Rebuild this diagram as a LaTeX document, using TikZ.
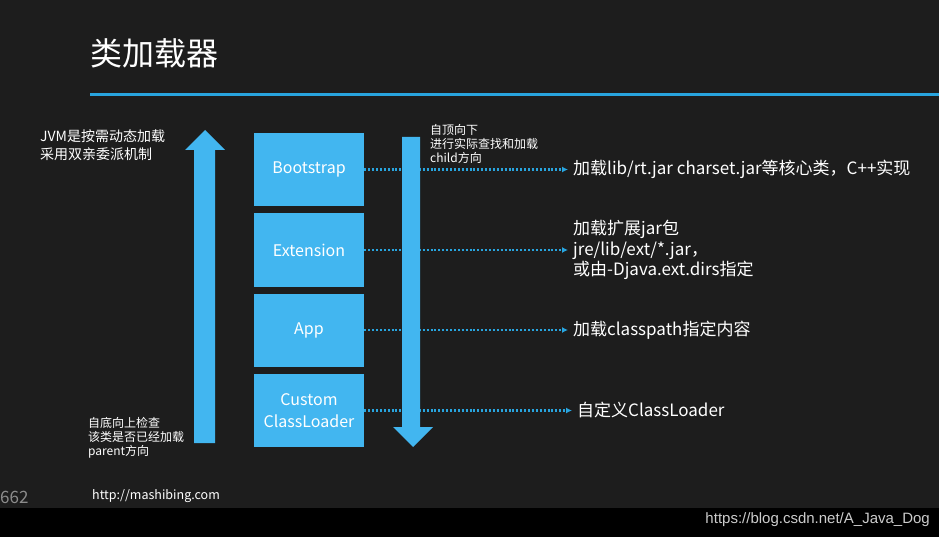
\documentclass[tikz,border=0pt]{standalone}
\usepackage{fontspec}
\setmainfont{Noto Sans CJK SC}
\newfontfamily\csdnfont{Liberation Sans}
\usetikzlibrary{arrows.meta}

\definecolor{board}{RGB}{29,29,29}
\definecolor{jvmblue}{RGB}{66,182,240}
\definecolor{lineblue}{RGB}{40,164,222}

\tikzset{
  loaderbox/.style={fill=jvmblue, text=white, minimum width=110pt, minimum height=73pt,
    inner sep=0pt, align=center, font=\fontsize{16}{22}\selectfont},
  infotext/.style={text=white, anchor=west, align=left, inner sep=5pt,
    font=\fontsize{17}{20.5}\selectfont},
  sidenote/.style={text=white, anchor=north west, align=left, inner sep=0pt,
    font=\fontsize{12}{14}\selectfont},
  dotarrow/.style={lineblue, line width=2.3pt, dash pattern=on 2pt off 1.9pt,
    -{Latex[length=6pt,width=6pt]}}
}

\begin{document}
\begin{tikzpicture}[x=1pt,y=1pt]
\useasboundingbox (0,0) rectangle (939,-537);
\fill [board] (0,0) rectangle (939,-508);
\fill [black] (0,-508) rectangle (939,-537);
% title
\node [text=white, anchor=west, inner sep=0pt, font=\fontsize{32}{36}\selectfont] (title) at (90,-53) {类加载器};
\coordinate (rulestart) at (90,-95);
\coordinate (ruleend) at (939,-95);
\draw [lineblue, line width=3pt] (rulestart) -- (ruleend);
% loaders
\node [loaderbox] (boot) at (309,-169.5) {Bootstrap};
\node [loaderbox] (ext) at (309,-250) {Extension};
\node [loaderbox] (app) at (309,-330) {App};
\node [loaderbox] (custom) at (309,-410.5) {Custom\\ClassLoader};
% what they load
\node [infotext] (bootinfo) at (568,-169.5) {加载lib/rt.jar charset.jar等核心类，C++实现};
\node [infotext] (extinfo) at (568,-250) {加载扩展jar包\\jre/lib/ext/*.jar，\\或由-Djava.ext.dirs指定};
\node [infotext] (appinfo) at (568,-330) {加载classpath指定内容};
\node [infotext] (custominfo) at (572,-410.5) {自定义ClassLoader};
\draw [dotarrow] (boot.east) -- (bootinfo.west);
\draw [dotarrow] (ext.east) -- (extinfo.west);
\draw [dotarrow] (app.east) -- (appinfo.west);
\draw [dotarrow] (custom.east) -- (custominfo.west);
% up and down
\fill [jvmblue] (194,-443) -- (194,-150) -- (185,-150) -- (205,-130) -- (225,-150) -- (215,-150) -- (215,-443) -- cycle;
\fill [jvmblue] (402,-137) -- (420,-137) -- (420,-427) -- (433,-427) -- (413,-447) -- (393,-427) -- (402,-427) -- cycle;
% notes
\node [sidenote, font=\fontsize{14}{18}\selectfont] (jvmnote) at (40,-129) {JVM是按需动态加载\\采用双亲委派机制};
\node [sidenote] (downnote) at (430,-124) {自顶向下\\进行实际查找和加载\\child方向};
\node [sidenote] (upnote) at (88,-417) {自底向上检查\\该类是否已经加载\\parent方向};
% footer
\node [text=white!55!black, anchor=west, inner sep=0pt, font=\fontsize{17}{20}\selectfont] (page) at (0,-497) {662};
\node [text=white, anchor=west, inner sep=0pt, font=\fontsize{12.5}{15}\selectfont] (site) at (92,-496) {http://mashibing.com};
\node [text=white!80!black, anchor=east, inner sep=0pt, font=\csdnfont\fontsize{15}{18}\selectfont] (blog) at (930,-520) {https://blog.csdn.net/A\_Java\_Dog};
\end{tikzpicture}
\end{document}
